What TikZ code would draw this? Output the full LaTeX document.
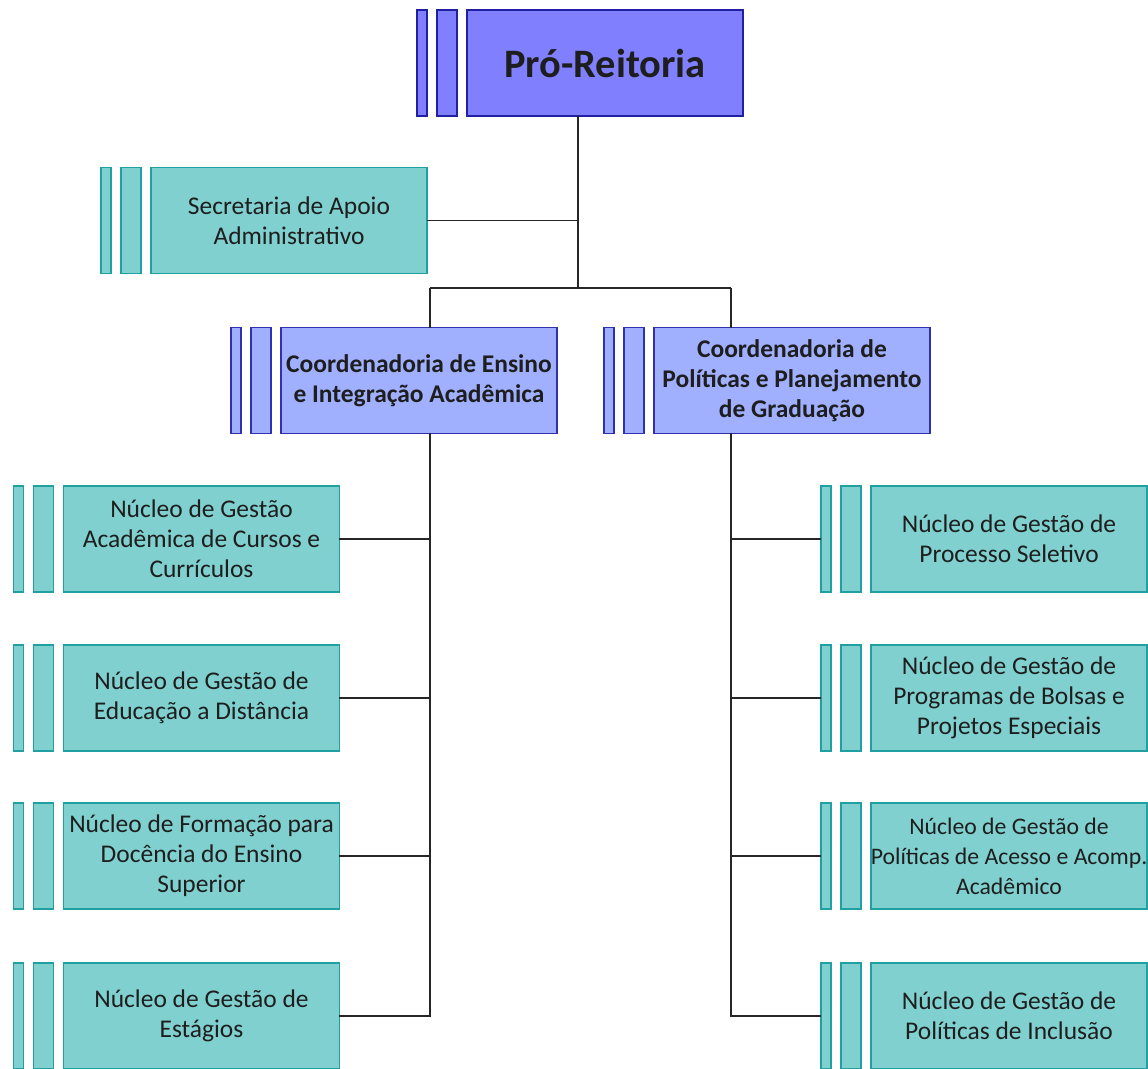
\documentclass[tikz,border=0pt]{standalone}
\usepackage{fontspec}
\setmainfont{Carlito}
\usetikzlibrary{positioning}
\definecolor{problue}{RGB}{128,128,255}
\definecolor{proedge}{RGB}{32,32,160}
\definecolor{coordblue}{RGB}{160,176,255}
\definecolor{coordedge}{RGB}{48,48,176}
\definecolor{nucteal}{RGB}{128,208,208}
\definecolor{nucedge}{RGB}{32,160,160}
\definecolor{txt}{RGB}{30,30,30}

\begin{document}
\begin{tikzpicture}[x=0.02cm, y=-0.02cm,
  unit/.style={rectangle, line width=1pt, minimum width=5.52cm, minimum height=2.12cm,
    inner sep=1pt, outer sep=0pt, align=center, text=txt, font=\fontsize{14.5}{17}\selectfont},
  head/.style={unit, draw=proedge, fill=problue, font=\fontsize{23}{26}\selectfont\bfseries},
  coord/.style={unit, draw=coordedge, fill=coordblue, font=\fontsize{14.5}{17}\selectfont\bfseries},
  nuc/.style={unit, draw=nucedge, fill=nucteal},
  slot/.style={rectangle, line width=1pt, minimum height=2.12cm, inner sep=0pt, outer sep=0pt},
  slotw/.style={slot, minimum width=0.4cm},
  slotn/.style={slot, minimum width=0.2cm},
  link/.style={draw=black!85, line width=0.9pt}
]
\useasboundingbox (0,0) rectangle (1148,1068);

% units
\node[head] (pr) at (605,63) {Pró-Reitoria};
\node[nuc] (sec) at (289,220.5) {Secretaria de Apoio\\Administrativo};
\node[coord] (ce) at (419,380.5) {Coordenadoria de Ensino\\e Integração Acadêmica};
\node[coord] (cp) at (792,380.5) {Coordenadoria de\\Políticas e Planejamento\\de Graduação};
\node[nuc] (nl1) at (201.5,539) {Núcleo de Gestão\\Acadêmica de Cursos e\\Currículos};
\node[nuc] (nl2) at (201.5,698) {Núcleo de Gestão de\\Educação a Distância};
\node[nuc] (nl3) at (201.5,856) {Núcleo de Formação para\\Docência do Ensino\\Superior};
\node[nuc] (nl4) at (201.5,1016) {Núcleo de Gestão de\\Estágios};
\node[nuc] (nr1) at (1009,539) {Núcleo de Gestão de\\Processo Seletivo};
\node[nuc] (nr2) at (1009,698) {Núcleo de Gestão de\\Programas de Bolsas e\\Projetos Especiais};
\node[nuc, font=\fontsize{13.5}{17}\selectfont, inner sep=0pt] (nr3) at (1009,856)
  {Núcleo de Gestão de\\Políticas de Acesso e Acomp.\\Acadêmico};
\node[nuc] (nr4) at (1009,1016) {Núcleo de Gestão de\\Políticas de Inclusão};

% side bars
\foreach \u/\e/\f in {pr/proedge/problue, sec/nucedge/nucteal, ce/coordedge/coordblue,
    cp/coordedge/coordblue, nl1/nucedge/nucteal, nl2/nucedge/nucteal, nl3/nucedge/nucteal,
    nl4/nucedge/nucteal, nr1/nucedge/nucteal, nr2/nucedge/nucteal, nr3/nucedge/nucteal,
    nr4/nucedge/nucteal} {
  \node[slotw, draw=\e, fill=\f, left=0.2cm of \u] (\u-b2) {};
  \node[slotn, draw=\e, fill=\f, left=0.2cm of \u-b2] (\u-b1) {};
}

% connectors
\coordinate (jt) at (578,288);
\coordinate (jl) at (430,288);
\coordinate (jr) at (731,288);
\draw[link] (pr.south -| jt) -- (jt);
\draw[link] (sec.east) -- (sec.east -| jt);
\draw[link] (jl) -- (jr);
\draw[link] (jl) -- (jl |- ce.north);
\draw[link] (jr) -- (jr |- cp.north);
\draw[link] (ce.south -| jl) -- (jl |- nl4.east) -- (nl4.east);
\draw[link] (cp.south -| jr) -- (jr |- nr4-b1.west) -- (nr4-b1.west);
\foreach \i in {1,2,3} {
  \draw[link] (nl\i.east) -- (nl\i.east -| jl);
  \draw[link] (nr\i-b1.west) -- (nr\i-b1.west -| jr);
}
\end{tikzpicture}
\end{document}
